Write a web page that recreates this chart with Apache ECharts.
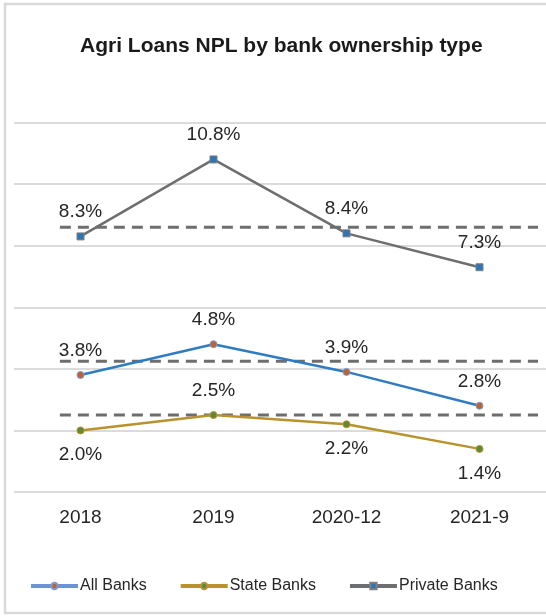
<!DOCTYPE html>
<html>
<head>
<meta charset="utf-8">
<script src="https://cdn.jsdelivr.net/npm/echarts@6/dist/echarts.min.js"></script>
<style>
html,body{margin:0;padding:0;background:#fff;}
#c{width:546px;height:616px;}
</style>
</head>
<body>
<div id="c"></div>
<script>
const categories = ['2018', '2019', '2020-12', '2021-9'];
const allBanks = [3.8, 4.8, 3.9, 2.8];
const stateBanks = [2.0, 2.5, 2.2, 1.4];
const privateBanks = [8.3, 10.8, 8.4, 7.3];
const refLevels = [8.6, 4.25, 2.5];
const refSpan = [0.345, 3.94];
const stateLabelPos = ['bottom', 'top', 'bottom', 'bottom'];

const chart = echarts.init(document.getElementById('c'));
const labelStyle = { fontSize: 19, color: '#262626', fontFamily: 'Liberation Sans, Arial, sans-serif' };
const fmt = p => (Array.isArray(p.value) ? p.value[1] : p.value).toFixed(1) + '%';

const refSeries = refLevels.map((lv, i) => ({
  name: 'ref' + i,
  type: 'line',
  xAxisIndex: 1,
  data: [[refSpan[0], lv], [refSpan[1], lv]],
  symbol: 'none',
  silent: true,
  lineStyle: { color: '#6e6e6e', width: 3, type: [11, 7] },
  z: 1
}));

chart.setOption({
  animation: false,
  backgroundColor: '#fff',
  textStyle: { fontFamily: 'Liberation Sans, Arial, sans-serif' },
  graphic: [{
    type: 'rect', shape: { x: 5, y: 4, width: 600, height: 609 },
    style: { fill: 'none', stroke: '#d9d9d9', lineWidth: 2.5 }, silent: true
  }],
  title: {
    text: 'Agri Loans NPL by bank ownership type',
    left: 75, top: 31,
    textStyle: { fontSize: 21, fontWeight: 'bold', color: '#1a1a1a' }
  },
  legend: {
    data: [
      { name: 'All Banks', lineStyle: { color: '#6b93d6', width: 4 } },
      { name: 'State Banks', lineStyle: { width: 4 } },
      { name: 'Private Banks', lineStyle: { width: 4 } }
    ],
    left: 24, top: 573, itemWidth: 47, itemHeight: 8, itemGap: 32,
    textStyle: { fontSize: 16, color: '#262626', padding: [0, 0, 0, -3] }
  },
  grid: { left: 14, right: -2, top: 122.5, bottom: 124 },
  xAxis: [{
    type: 'category', data: categories, boundaryGap: true,
    axisLine: { show: false }, axisTick: { show: false },
    axisLabel: { fontSize: 19, color: '#262626', margin: 16 }
  }, {
    type: 'value', min: 0, max: 4, show: false
  }],
  yAxis: {
    type: 'value', min: 0, max: 12, interval: 2,
    axisLabel: { show: false }, axisLine: { show: false }, axisTick: { show: false },
    splitLine: { lineStyle: { color: '#cfcfcf', width: 1.5 } }
  },
  series: [
    ...refSeries,
    {
      name: 'All Banks', type: 'line', data: allBanks,
      symbol: 'circle', symbolSize: 7,
      itemStyle: { color: '#c0622b', borderColor: '#7a9bd8', borderWidth: 1 },
      lineStyle: { color: '#2f7cc3', width: 2.5 },
      label: { show: true, position: 'top', distance: 11, formatter: fmt, ...labelStyle },
      z: 3
    },
    {
      name: 'State Banks', type: 'line',
      data: stateBanks.map((v, i) => ({ value: v, label: { position: stateLabelPos[i] } })),
      symbol: 'circle', symbolSize: 7,
      itemStyle: { color: '#5f8a35', borderColor: '#b8922a', borderWidth: 1 },
      lineStyle: { color: '#b8922a', width: 2.5 },
      label: { show: true, distance: 11, formatter: fmt, ...labelStyle },
      z: 3
    },
    {
      name: 'Private Banks', type: 'line', data: privateBanks,
      symbol: 'rect', symbolSize: 7,
      itemStyle: { color: '#2e75b6', borderColor: '#7f7f7f', borderWidth: 1 },
      lineStyle: { color: '#6d6e70', width: 2.5 },
      label: { show: true, position: 'top', distance: 11, formatter: fmt, ...labelStyle },
      z: 3
    }
  ]
});
</script>
</body>
</html>
